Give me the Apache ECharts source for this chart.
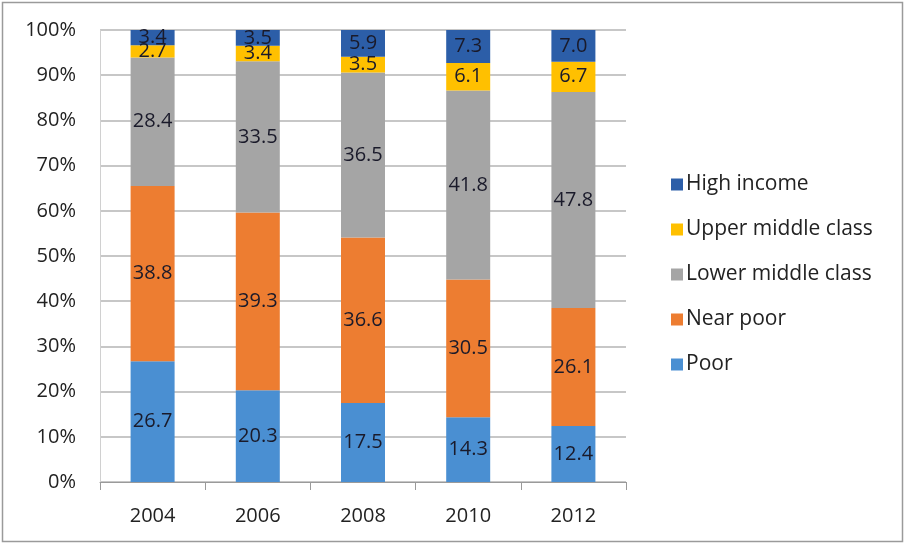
<!DOCTYPE html>
<html><head><meta charset="utf-8">
<script src="https://cdn.jsdelivr.net/npm/echarts@6/dist/echarts.min.js"></script>
<style>html,body{margin:0;padding:0;background:#fff}#c{width:905px;height:544px}</style>
</head><body><div id="c"></div>
<script>
const years = ['2004','2006','2008','2010','2012'];
const poor = [26.7, 20.3, 17.5, 14.3, 12.4];
const nearPoor = [38.8, 39.3, 36.6, 30.5, 26.1];
const lowerMiddle = [28.4, 33.5, 36.5, 41.8, 47.8];
const upperMiddle = [2.7, 3.4, 3.5, 6.1, 6.7];
const highIncome = [3.4, 3.5, 5.9, 7.3, 7.0];
const seriesNames = ['Poor','Near poor','Lower middle class','Upper middle class','High income'];
const seriesValues = [poor, nearPoor, lowerMiddle, upperMiddle, highIncome];
const colors = ['#4a8fd2','#ed7d31','#a5a5a5','#ffc000','#2c5ea8'];

const font = '"Open Sans", "Noto Sans", sans-serif';
const chart = echarts.init(document.getElementById('c'));
chart.setOption({
  animation: false,
  textStyle: {fontFamily: font},
  graphic: [{type:'rect', shape:{x:2.5,y:2.5,width:900,height:539}, style:{fill:'none', stroke:'#9a9a9a', lineWidth:1.5}, silent:true}],
  grid: {left: 100, right: 279, top: 30, bottom: 62},
  legend: {
    orient: 'vertical', left: 666, top: 166, itemGap: 18,
    itemWidth: 12, itemHeight: 12, icon: 'rect',
    data: seriesNames.slice().reverse(),
    textStyle: {fontSize: 21, lineHeight: 27, color: '#222', fontFamily: font, padding:[0,0,0,-2]}
  },
  xAxis: {
    type: 'category', data: years,
    axisLine: {lineStyle: {color: '#9a9a9a'}},
    axisTick: {show: true, alignWithLabel: false, length: 8, lineStyle:{color:'#9a9a9a'}},
    axisLabel: {fontSize: 20, color: '#222', margin: 24}
  },
  yAxis: {
    type: 'value', min: 0, max: 100, interval: 10,
    axisLine: {show: true, lineStyle: {color: '#d0d0d0'}},
    axisTick: {show: false},
    splitLine: {lineStyle: {color: '#b4b4b4', width: 1.5}},
    axisLabel: {fontSize: 20, color: '#222', margin: 24, formatter: v => v + '%'}
  },
  series: seriesValues.map((vals, i) => ({
    name: seriesNames[i], type: 'bar', stack: 'total', data: vals,
    barWidth: 44,
    itemStyle: {color: colors[i]},
    label: {show: true, position: 'inside', fontSize: 20, color: '#1a1a2a',
      formatter: p => p.value.toFixed(1)}
  }))
});
</script></body></html>
